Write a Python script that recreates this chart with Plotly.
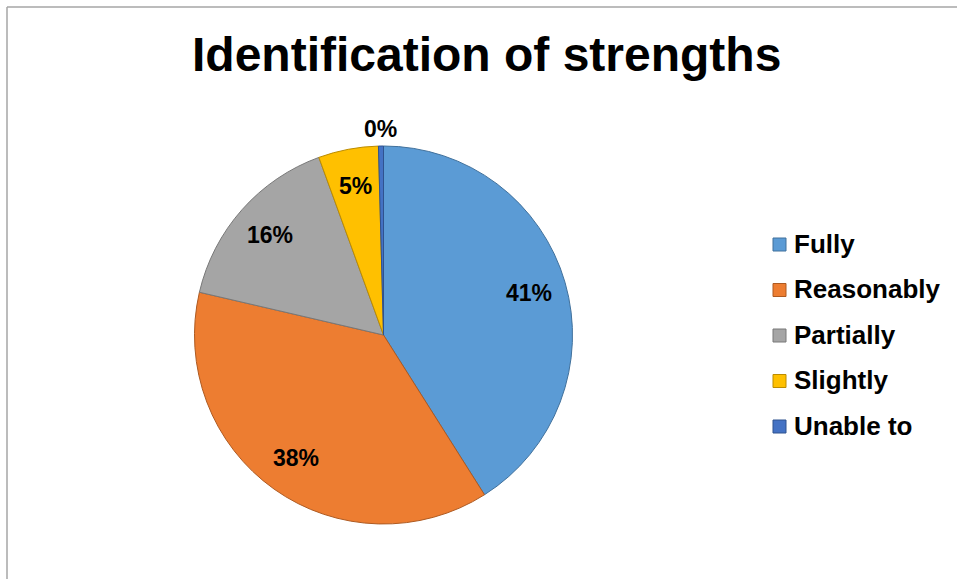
import math

import plotly.graph_objects as go

# Chart data
categories = ["Fully", "Reasonably", "Partially", "Slightly", "Unable to"]
counts = [96, 88, 37, 12, 1]
title_text = "Identification of strengths"

fill_colors = ["#5B9BD5", "#ED7D31", "#A5A5A5", "#FFC000", "#4472C4"]
edge_colors = ["#41719C", "#AE5A21", "#787878", "#BC8C00", "#2F528F"]

W, H = 957, 579
FONT = "Arial, 'Liberation Sans', sans-serif"

# Pie geometry in pixels
CX, CY, R = 383.5, 335.0, 189.0


def px_x(x):
    return x / W


def px_y(y):
    return 1 - y / H


fig = go.Figure()
fig.add_trace(go.Pie(
    labels=categories,
    values=counts,
    sort=False,
    direction="clockwise",
    rotation=0,
    textinfo="none",
    marker=dict(colors=fill_colors, line=dict(color=edge_colors, width=1)),
    domain=dict(x=[px_x(CX - R), px_x(CX + R)], y=[px_y(CY + R), px_y(CY - R)]),
    hovertemplate="%{label}: %{percent}<extra></extra>",
    showlegend=False,
))

# Percentage labels placed along each slice's mid-angle
total = sum(counts)
annotations = []
cum = 0
for cat, value in zip(categories, counts):
    share = value / total
    theta = 2 * math.pi * (cum + value / 2) / total
    cum += value
    rf = 1.09 if share < 0.01 else 0.8
    x = CX + R * rf * math.sin(theta)
    y = CY - R * rf * math.cos(theta)
    annotations.append(dict(
        x=px_x(x), y=px_y(y), xref="paper", yref="paper",
        text=f"<b>{round(share * 100)}%</b>",
        showarrow=False, xanchor="center", yanchor="middle",
        font=dict(family=FONT, size=23, color="#000000"),
    ))

# Title
annotations.append(dict(
    x=px_x(487), y=px_y(54.5), xref="paper", yref="paper",
    text=f"<b>{title_text}</b>", showarrow=False,
    xanchor="center", yanchor="middle",
    font=dict(family=FONT, size=48, color="#000000"),
))

# Hand-built legend (square swatch + bold label)
shapes = []
LEG_X, LEG_Y0, LEG_STEP, SW = 773, 244.5, 45.5, 13
for i, (cat, fc, ec) in enumerate(zip(categories, fill_colors, edge_colors)):
    yc = LEG_Y0 + i * LEG_STEP
    shapes.append(dict(
        type="rect", xref="paper", yref="paper",
        x0=px_x(LEG_X), x1=px_x(LEG_X + SW),
        y0=px_y(yc + SW / 2), y1=px_y(yc - SW / 2),
        fillcolor=fc, line=dict(color=ec, width=1),
    ))
    annotations.append(dict(
        x=px_x(LEG_X + SW + 6), y=px_y(yc - 1), xref="paper", yref="paper",
        text=f"<b>{cat}</b>", showarrow=False,
        xanchor="left", yanchor="middle",
        font=dict(family=FONT, size=26, color="#000000"),
    ))

# Chart-area border (top and left edges visible)
border = dict(color="#A6A6A6", width=1.5)
shapes.append(dict(type="line", xref="paper", yref="paper",
                   x0=px_x(7), x1=1.0, y0=px_y(7), y1=px_y(7), line=border))
shapes.append(dict(type="line", xref="paper", yref="paper",
                   x0=px_x(7), x1=px_x(7), y0=px_y(7), y1=0.0, line=border))

fig.update_layout(
    width=W, height=H,
    margin=dict(l=0, r=0, t=0, b=0),
    paper_bgcolor="#FFFFFF",
    plot_bgcolor="#FFFFFF",
    annotations=annotations,
    shapes=shapes,
)

# Drop the default 8px page margin so the figure sits at the window origin.
fig.write_html(
    "out.html",
    config={"displayModeBar": False},
    post_script="document.body.style.margin = '0';",
)
